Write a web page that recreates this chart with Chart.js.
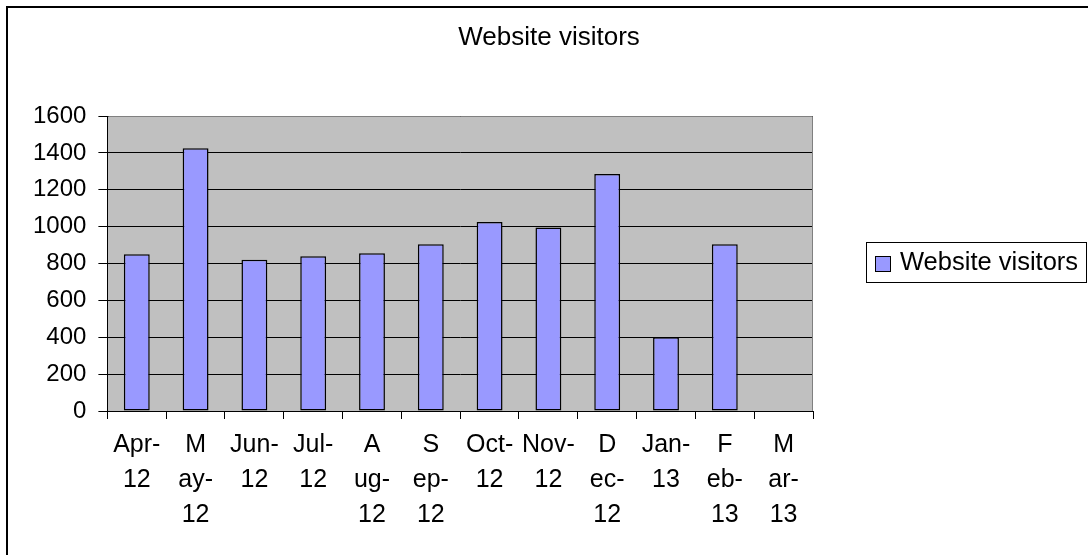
<!DOCTYPE html>
<html>
<head>
<meta charset="utf-8">
<script src="https://cdn.jsdelivr.net/npm/chart.js@4/dist/chart.umd.min.js"></script>
<style>
  html, body { margin: 0; padding: 0; background: #fff; }
  #wrap { position: relative; width: 1088px; height: 555px; overflow: hidden; }
  #frame { position: absolute; left: 6px; top: 6px; width: 1100px; height: 600px;
           border-left: 2px solid #000; border-top: 2px solid #000; }
  canvas { position: absolute; left: 0; top: 0; }
</style>
</head>
<body>
<div id="wrap">
  <div id="frame"></div>
  <canvas id="visitorsChart" width="1088" height="555"></canvas>
</div>
<script>
// Monthly visitors
const months = [
  ["Apr-", "12"], ["M", "ay-", "12"], ["Jun-", "12"], ["Jul-", "12"],
  ["A", "ug-", "12"], ["S", "ep-", "12"], ["Oct-", "12"], ["Nov-", "12"],
  ["D", "ec-", "12"], ["Jan-", "13"], ["F", "eb-", "13"], ["M", "ar-", "13"]
];
const visitors = [850, 1425, 820, 840, 855, 905, 1025, 995, 1285, 400, 905, null];
const yTickValues = [0, 200, 400, 600, 800, 1000, 1200, 1400, 1600];
const seriesName = "Website visitors";

const FONT = "'Liberation Sans', Arial, sans-serif";
const BAR_COLOR = "#9999FF";

// gray plot background + gray top/right edge of the plot area
const plotArea = {
  id: "plotArea",
  beforeDraw(chart) {
    const { ctx, chartArea: a } = chart;
    ctx.save();
    ctx.fillStyle = "#C0C0C0";
    ctx.fillRect(a.left, a.top, a.right - a.left, a.bottom - a.top);
    ctx.restore();
  },
  beforeDatasetsDraw(chart) {
    const { ctx, chartArea: a } = chart;
    ctx.save();
    ctx.strokeStyle = "#808080";
    ctx.lineWidth = 1;
    ctx.beginPath();
    ctx.moveTo(a.left + 1, a.top + 0.5);
    ctx.lineTo(a.right - 0.5, a.top + 0.5);
    ctx.lineTo(a.right - 0.5, a.bottom);
    ctx.stroke();
    ctx.restore();
  }
};

// title centred on the whole picture, boxed legend on the right
const titleAndLegend = {
  id: "titleAndLegend",
  afterDraw(chart) {
    const ctx = chart.ctx;
    const name = chart.data.datasets[0].label;
    ctx.save();
    ctx.fillStyle = "#000";
    ctx.font = "26px " + FONT;
    ctx.textAlign = "center";
    ctx.textBaseline = "middle";
    ctx.fillText(name, 549, 38);

    const x = 866, y = 242, w = 221, h = 40;
    ctx.strokeStyle = "#000";
    ctx.lineWidth = 1;
    ctx.strokeRect(x + 0.5, y + 0.5, w - 1, h);
    ctx.fillStyle = BAR_COLOR;
    ctx.fillRect(875.5, 256.5, 15, 15);
    ctx.strokeRect(875.5, 256.5, 15, 15);
    ctx.fillStyle = "#000";
    ctx.textAlign = "left";
    ctx.font = "25.5px " + FONT;
    ctx.fillText(name, 900, 263);
    ctx.restore();
  }
};

new Chart(document.getElementById("visitorsChart"), {
  type: "bar",
  data: {
    labels: months,
    datasets: [{
      label: seriesName,
      data: visitors,
      backgroundColor: BAR_COLOR,
      borderColor: "#000",
      borderWidth: 1.5,
      borderSkipped: false,
      barPercentage: 0.44,
      categoryPercentage: 1
    }]
  },
  options: {
    responsive: false,
    animation: false,
    layout: { padding: { left: 21, right: 275, top: 116, bottom: 13 } },
    plugins: {
      legend: { display: false },
      tooltip: { enabled: false },
      title: { display: false }
    },
    scales: {
      x: {
        offset: true,
        grid: {
          offset: true,
          drawOnChartArea: false,
          drawTicks: true,
          tickLength: 8,
          tickColor: "#000"
        },
        border: { color: "#000", width: 1 },
        ticks: {
          autoSkip: false,
          maxRotation: 0,
          minRotation: 0,
          padding: 9,
          color: "#000",
          font: { family: FONT, size: 25, lineHeight: 1.4 }
        }
      },
      y: {
        min: 0,
        max: 1600,
        afterBuildTicks(scale) {
          scale.ticks = yTickValues.map(v => ({ value: v }));
        },
        grid: {
          color: "#000",
          lineWidth: 1,
          tickLength: 9,
          tickColor: "#000"
        },
        border: { color: "#000", width: 1 },
        ticks: {
          padding: 12,
          color: "#000",
          font: { family: FONT, size: 24 },
          callback: v => String(v)
        }
      }
    }
  },
  plugins: [plotArea, titleAndLegend]
});
</script>
</body>
</html>
